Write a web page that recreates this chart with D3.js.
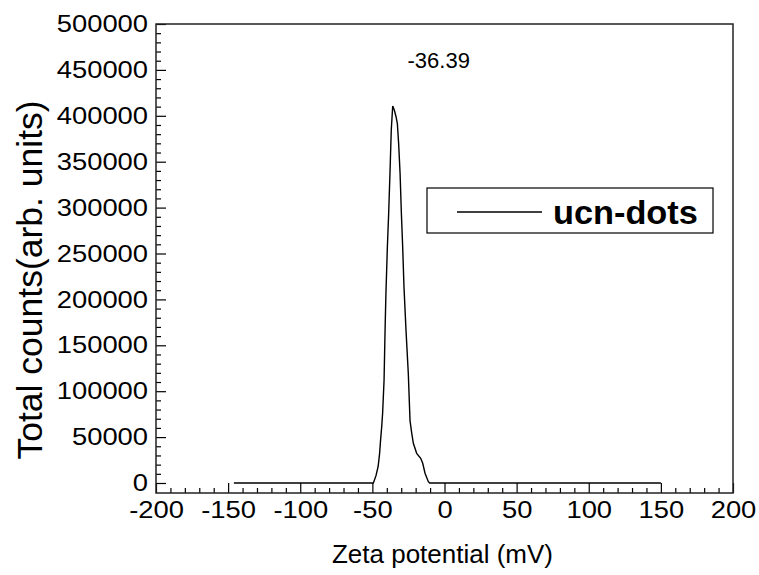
<!DOCTYPE html>
<html>
<head>
<meta charset="utf-8">
<script src="https://cdn.jsdelivr.net/npm/d3@7/dist/d3.min.js"></script>
<style>
  html, body { margin: 0; padding: 0; background: #fff; }
  svg { display: block; }
  text { font-family: "Liberation Sans", Arial, sans-serif; fill: #000; }
</style>
</head>
<body>
<svg id="chart" width="759" height="575"></svg>
<script>
// Data
const zeta = [-146, -100, -49.3, -47.5, -46, -45, -44.3, -43.5, -42.9, -41.9, -41.2, -40.6, -39.6, -38.7, -37.8, -36.9, -35.9,
  -34.8, -33.6, -32.7, -31.8, -30.8, -29.9, -29.0, -28.1, -26.7, -25.1, -23.9, -22.7, -21.6, -19.3, -16.5, -15.1, -13.5, -11.2, -10.3, 50, 150];
const counts = [0, 0, 0, 8000, 18000, 32000, 47000, 62000, 76000, 112000, 166700, 206600, 257400, 293800, 337400, 384500, 410700,
  406300, 399000, 391800, 370000, 337400, 293800, 257400, 213900, 166700, 119500, 68000, 54100, 43250, 32300, 26900, 21500, 10600, 1400, 0, 0, 0];
const xTicks = [-200, -150, -100, -50, 0, 50, 100, 150, 200];
const yTicks = [0, 50000, 100000, 150000, 200000, 250000, 300000, 350000, 400000, 450000, 500000];
const peakLabel = "-36.39";
const seriesName = "ucn-dots";
const xTitle = "Zeta potential (mV)";
const yTitle = "Total counts(arb. units)";

const svg = d3.select("#chart");
const L = 156, R = 733, T = 24, B = 493;

const x = d3.scaleLinear().domain([-200, 200]).range([L, R]);
const y = d3.scaleLinear().domain([-10900, 500000]).range([B, T]);
const fmt = v => String(v); // plain hyphen-minus, as in the reference

// minor ticks
const xMinor = d3.range(-200, 201, 10).filter(v => v % 50 !== 0);
const yMinor = d3.range(0, 500001, 10000).filter(v => v % 50000 !== 0);

svg.append("g").attr("transform", `translate(0,${B})`)
  .call(d3.axisBottom(x).tickValues(xMinor).tickSizeInner(-5).tickSizeOuter(0).tickFormat(""))
  .call(g => g.select(".domain").remove())
  .call(g => g.selectAll("line").attr("stroke", "#000").attr("stroke-width", 1.2));

svg.append("g").attr("transform", `translate(${L},0)`)
  .call(d3.axisLeft(y).tickValues(yMinor).tickSizeInner(-5).tickSizeOuter(0).tickFormat(""))
  .call(g => g.select(".domain").remove())
  .call(g => g.selectAll("line").attr("stroke", "#000").attr("stroke-width", 1.2));

// major ticks
svg.append("g").attr("transform", `translate(0,${B})`)
  .call(d3.axisBottom(x).tickValues(xTicks).tickSizeInner(-10).tickSizeOuter(0).tickPadding(8).tickFormat(fmt))
  .call(g => g.select(".domain").remove())
  .call(g => g.selectAll("line").attr("stroke", "#000").attr("stroke-width", 1.2))
  .call(g => g.selectAll("text").attr("font-size", 24).attr("font-family", "Liberation Sans, Arial, sans-serif")
    .attr("fill", "#000").attr("transform", function() { return "translate(" + d3.select(this.parentNode).attr("transform").match(/translate\(([-\d.]+)/)[1] * 0 + ",0) scale(1.14,1)"; }));

svg.append("g").attr("transform", `translate(${L},0)`)
  .call(d3.axisLeft(y).tickValues(yTicks).tickSizeInner(-10).tickSizeOuter(0).tickPadding(7).tickFormat(fmt))
  .call(g => g.select(".domain").remove())
  .call(g => g.selectAll("line").attr("stroke", "#000").attr("stroke-width", 1.2))
  .call(g => g.selectAll("text").attr("font-size", 24).attr("font-family", "Liberation Sans, Arial, sans-serif")
    .attr("fill", "#000").attr("transform", "scale(1.14,1)"));

// frame
svg.append("rect").attr("x", L).attr("y", T).attr("width", R - L).attr("height", B - T)
  .attr("fill", "none").attr("stroke", "#222").attr("stroke-width", 1.5);

// data line
const pts = zeta.map((v, i) => [v, counts[i]]);
svg.append("path").datum(pts)
  .attr("fill", "none").attr("stroke", "#000").attr("stroke-width", 1.4)
  .attr("d", d3.line().x(d => x(d[0])).y(d => y(d[1])));

// peak annotation
svg.append("text").attr("x", x(-4)).attr("y", y(452000)).attr("text-anchor", "middle")
  .attr("font-size", 22).text(peakLabel);

// legend
svg.append("rect").attr("x", 427).attr("y", 188).attr("width", 286).attr("height", 45)
  .attr("fill", "#fff").attr("stroke", "#000").attr("stroke-width", 1.2);
svg.append("line").attr("x1", 457).attr("x2", 542).attr("y1", 212).attr("y2", 212)
  .attr("stroke", "#000").attr("stroke-width", 1.4);
svg.append("text").attr("x", 553).attr("y", 224).attr("font-size", 33).attr("font-weight", "bold")
  .attr("transform", "translate(553,0) scale(1.04,1) translate(-553,0)")
  .text(seriesName);

// axis titles
svg.append("text").attr("x", 442.5).attr("y", 563).attr("text-anchor", "middle")
  .attr("font-size", 25).attr("transform", "translate(442.5,0) scale(1.04,1) translate(-442.5,0)").text(xTitle);
svg.append("text").attr("transform", `translate(42,280) rotate(-90)`).attr("text-anchor", "middle")
  .attr("font-size", 35.5).text(yTitle);
</script>
</body>
</html>
